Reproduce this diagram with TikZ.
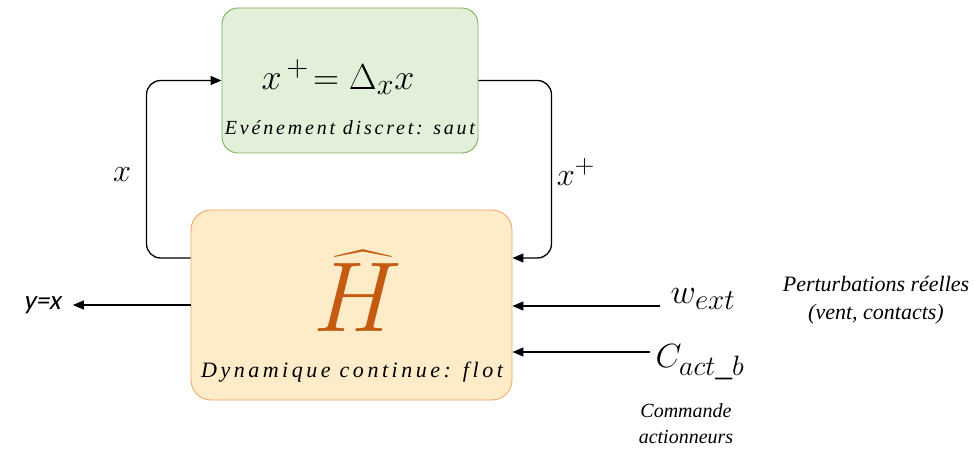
\documentclass[tikz,border=0pt]{standalone}
\usepackage{graphicx}
\usepackage{fontspec}
\setmainfont{Liberation Serif}
\newfontfamily\jumpfont[LetterSpace=14]{Liberation Serif}
\newfontfamily\flowfont[LetterSpace=16]{Liberation Serif}
\newfontfamily\calfont[FakeSlant=0.2]{Carlito}
\usepackage{tikz}
\usetikzlibrary{arrows.meta,calc,positioning}
\definecolor{hgreen}{HTML}{E2EFD9}
\definecolor{hgreenb}{HTML}{7FAE5E}
\definecolor{hpeach}{HTML}{FEEBC8}
\definecolor{hpeachb}{HTML}{F0A86C}
\definecolor{horange}{HTML}{C55A11}
\newcommand{\hbigmath}[2]{\scalebox{#1}{\Huge$#2$}}
\tikzset{
  >={Triangle[length=11pt,width=9pt]},
  hflowarr/.style={->, black, line width=1.3pt},
  hjump/.style={rounded corners=16pt, draw=hgreenb, fill=hgreen, line width=0.9pt,
                minimum width=256pt, minimum height=145pt},
  hcont/.style={rounded corners=20pt, draw=hpeachb, fill=hpeach, line width=0.9pt,
                minimum width=321pt, minimum height=190pt},
  hlbl/.style={align=center, inner sep=0pt},
  hmath/.style={inner sep=0pt},
}
\begin{document}
\begin{tikzpicture}[x=1pt,y=-1pt]
  \useasboundingbox (0,0) rectangle (974,457);

  % blocs
  \node[hjump] (jump) at (350,80.5) {};
  \node[hcont] (flow) at (351.5,305) {};
  \node[hmath] (jeq) at (338,77) {\hbigmath{1.45}{x^{\,+}\!=\Delta_{x}x}};
  \node[font=\jumpfont\itshape\fontsize{20}{22}\selectfont, inner sep=0pt] (jtxt) at (350,128)
    {Evénement discret: saut};
  \node[hmath, text=horange] (hhat) at (358,291) {\hbigmath{4.0}{\widehat{H}}};
  \node[font=\flowfont\itshape\fontsize{22}{24}\selectfont, inner sep=0pt] (ftxt) at (352,372)
    {Dynamique continue: flot};

  % boucle saut / flot
  \draw[hflowarr, rounded corners=14pt] ([yshift=47pt]flow.west) -- ++(-44,0) |- (jump.west);
  \draw[hflowarr, rounded corners=14pt] (jump.east) -- ++(73,0) |- ([yshift=47pt]flow.east);
  \node[hmath] (xl) at (122,175) {\hbigmath{1.3}{x}};
  \node[hmath] (xr) at (576,172) {\hbigmath{1.3}{x^{+}}};

  % sortie
  \node[font=\calfont\fontsize{27}{28}\selectfont, inner sep=0pt] (yout) at (42,305) {y=x};
  \draw[hflowarr] (flow.west) -- ([xshift=12pt]yout.east);

  % entrees
  \node[hmath] (wext) at (703,299) {\hbigmath{1.4}{w_{ext}}};
  \node[hlbl, font=\itshape\fontsize{22}{28}\selectfont] (wtxt) at (876,300)
    {Perturbations réelles\\(vent, contacts)};
  \coordinate (win) at (660,306);
  \draw[hflowarr] (win) -- (win -| flow.east);
  \node[hmath] (cact) at (700,362) {\hbigmath{1.35}{C_{act\_b}}};
  \node[hlbl, font=\itshape\fontsize{20}{26}\selectfont] (ctxt) at (686,424) {Commande\\actionneurs};
  \coordinate (cin) at (650,352);
  \draw[hflowarr] (cin) -- (cin -| flow.east);

\end{tikzpicture}
\end{document}
